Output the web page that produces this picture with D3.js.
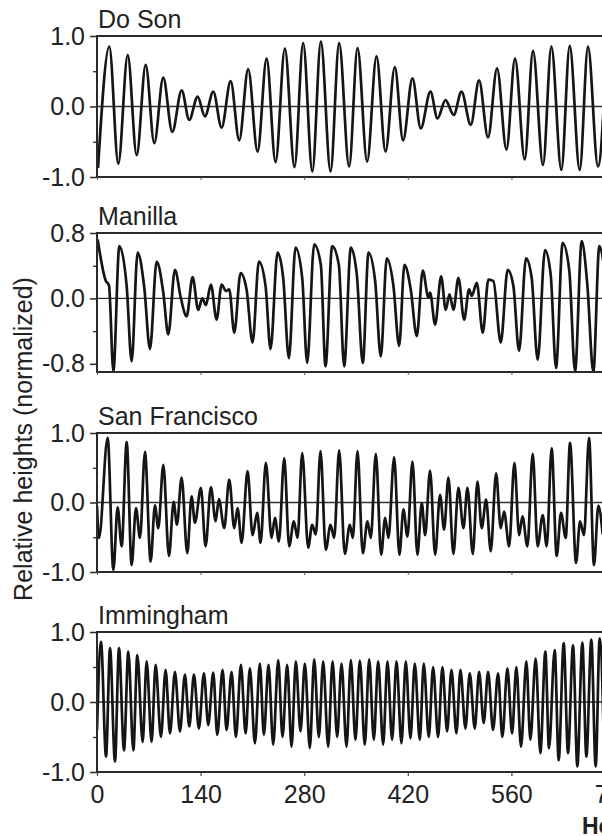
<!DOCTYPE html>
<html><head><meta charset="utf-8">
<script src="https://cdn.jsdelivr.net/npm/d3@7"></script>
<style>body{margin:0;background:#fff}svg{display:block}</style>
</head><body>
<svg id="chart" width="602" height="836"></svg>
<script>
// ---------------- data ----------------
const stations = ["Do Son", "Manilla", "San Francisco", "Immingham"];
const xTickValues = [0, 140, 280, 420, 560, 700];
const xAxisTitle = "Hours";
const yAxisTitle = "Relative heights (normalized)";

const doSonHours = [1.4,16.6,28.8,41.5,53.6,65.8,77.4,89.5,101.7,114.4,124.6,136.0,145.8,157.1,168.4,180.6,192.2,204.3,217.0,229.2,241.3,253.9,266.9,278.6,291.0,302.5,315.6,327.2,340.7,352.1,365.0,377.7,389.9,402.4,413.6,426.3,437.5,450.6,460.1,470.9,482.1,492.5,505.1,516.3,528.4,540.6,553.3,564.9,578.0,589.2,602.7,614.0,627.5,638.8,652.3,663.5,677.0,688.7];
const doSonHeights = [-0.87,0.85,-0.81,0.73,-0.69,0.59,-0.52,0.41,-0.36,0.23,-0.19,0.14,-0.14,0.21,-0.30,0.36,-0.48,0.53,-0.64,0.68,-0.79,0.82,-0.86,0.90,-0.92,0.92,-0.92,0.90,-0.85,0.83,-0.78,0.71,-0.64,0.56,-0.48,0.40,-0.31,0.21,-0.17,0.09,-0.12,0.21,-0.26,0.37,-0.44,0.54,-0.61,0.68,-0.75,0.79,-0.83,0.85,-0.90,0.86,-0.90,0.85,-0.85,0.83];

const manillaHours = [0.9,11.7,16.2,22.1,30.2,40.1,46.8,54.9,63.9,71.6,80.6,89.6,96.3,105.3,113.4,121.1,129.2,136.8,142.2,147.2,153.9,161.6,168.4,174.2,178.7,185.5,194.0,202.1,210.2,218.8,227.8,234.5,244.0,251.6,259.3,268.3,277.3,284.0,293.5,302.5,308.8,317.8,326.8,334.0,343.0,351.1,359.2,366.9,375.9,383.5,391.6,400.6,408.3,415.5,424.0,432.1,440.2,447.9,450.1,456.9,465.0,471.3,476.3,481.7,488.4,496.1,502.8,506.4,513.2,521.3,528.9,535.7,545.6,555.0,562.7,570.3,579.8,587.4,595.5,605.4,613.1,620.3,629.3,638.3,646.0,655.0,662.6,670.7,678.8,686.5,694.0];
const manillaHeights = [0.72,0.22,0.16,-0.89,0.64,0.15,-0.77,0.56,0.13,-0.62,0.45,0.07,-0.44,0.35,0.00,-0.22,0.26,-0.14,0.00,-0.08,0.17,-0.26,0.17,0.09,0.11,-0.42,0.31,0.11,-0.54,0.45,0.15,-0.62,0.56,0.25,-0.73,0.62,0.25,-0.79,0.66,0.41,-0.83,0.64,0.41,-0.83,0.62,0.29,-0.79,0.56,0.21,-0.71,0.49,0.15,-0.58,0.41,0.11,-0.46,0.34,0.01,0.07,-0.32,0.27,-0.14,0.05,-0.14,0.25,-0.26,0.11,0.03,0.19,-0.42,0.23,0.21,-0.54,0.35,0.15,-0.64,0.49,0.25,-0.75,0.59,0.29,-0.85,0.68,0.33,-0.89,0.70,0.17,-0.90,0.64,0.25,-0.85];

const sanFranciscoHours = [0,2.7,14.4,22.1,27.9,33.3,40.1,46.8,52.7,58.1,64.8,72.5,78.3,82.8,89.6,97.2,103.6,108.0,114.3,122.0,127.8,132.3,140.4,146.7,153.9,160.3,164.7,171.9,178.7,185.5,190.0,195.4,203.5,210.2,216.5,221.0,228.2,235.9,240.4,245.8,253.0,259.7,266.0,271.0,277.3,285.4,290.8,295.7,302.0,309.2,315.6,320.5,327.2,334.9,341.7,345.7,352.0,359.2,365.5,370.0,376.8,384.0,389.4,393.8,401.5,408.7,414.1,419.5,426.3,433.0,438.9,443.4,450.1,456.9,463.6,469.0,474.9,481.6,488.4,495.2,500.6,507.8,514.1,519.9,525.8,532.1,539.3,545.6,550.1,556.9,564.1,570.4,574.9,581.6,588.8,595.5,602.3,607.7,614.4,621.2,627.0,633.4,639.2,647.4,652.7,658.1,664.9,671.6,677.5,683.4];
const sanFranciscoHeights = [-0.05,-0.51,0.93,-0.97,-0.07,-0.63,0.87,-0.90,-0.08,-0.51,0.73,-0.85,-0.04,-0.37,0.54,-0.77,0.01,-0.32,0.36,-0.73,0.09,-0.29,0.21,-0.63,0.22,-0.27,0.05,-0.37,0.33,-0.37,-0.08,-0.58,0.45,-0.47,-0.15,-0.58,0.57,-0.51,-0.22,-0.56,0.64,-0.63,-0.27,-0.51,0.71,-0.65,-0.32,-0.46,0.74,-0.68,-0.32,-0.51,0.75,-0.74,-0.32,-0.51,0.74,-0.73,-0.27,-0.51,0.70,-0.75,-0.22,-0.51,0.65,-0.75,-0.10,-0.49,0.59,-0.75,-0.01,-0.47,0.46,-0.75,0.11,-0.39,0.36,-0.74,0.21,-0.37,0.21,-0.74,0.30,-0.37,0.04,-0.70,0.42,-0.37,-0.13,-0.63,0.57,-0.47,-0.20,-0.63,0.70,-0.63,-0.18,-0.63,0.78,-0.77,-0.15,-0.51,0.86,-0.87,-0.27,-0.47,0.93,-0.90,-0.05,-0.46];

const imminghamHours = [0,5.4,12.2,17.6,24.3,29.7,36.5,42.3,49.1,54.5,61.7,67.1,73.8,79.2,86.4,92.7,98.6,105.3,112.1,118.8,124.7,131.0,137.7,144.5,150.3,157.1,162.5,169.7,175.1,181.9,187.7,194.5,200.8,206.6,213.4,220.1,225.5,231.8,238.1,244.9,250.7,257.0,262.9,268.7,275.0,280.9,287.6,293.5,299.8,305.6,312.4,318.3,324.6,330.4,337.2,343.0,349.3,355.2,361.9,367.8,374.1,379.9,386.7,392.5,398.8,404.7,411.4,417.3,423.6,429.4,436.2,441.6,448.3,454.2,460.9,466.8,473.1,479.0,485.7,491.1,497.9,503.7,510.5,516.3,522.6,528.5,535.2,542.0,547.8,554.6,560.9,566.7,573.0,580.2,585.6,592.8,599.1,605.9,610.8,618.5,623.9,630.7,636.5,643.3,649.1,655.9,661.3,668.0,673.9,679.3,685.5];
const imminghamHeights = [-0.40,0.86,-0.78,0.77,-0.85,0.77,-0.69,0.72,-0.69,0.67,-0.57,0.58,-0.57,0.53,-0.50,0.46,-0.45,0.43,-0.42,0.39,-0.35,0.39,-0.38,0.41,-0.33,0.42,-0.47,0.46,-0.40,0.43,-0.50,0.53,-0.45,0.48,-0.59,0.55,-0.47,0.53,-0.61,0.60,-0.50,0.53,-0.64,0.58,-0.42,0.55,-0.66,0.61,-0.50,0.58,-0.64,0.58,-0.50,0.55,-0.64,0.60,-0.54,0.59,-0.61,0.61,-0.54,0.58,-0.61,0.58,-0.54,0.58,-0.59,0.58,-0.52,0.55,-0.54,0.55,-0.50,0.50,-0.50,0.50,-0.42,0.46,-0.45,0.46,-0.38,0.41,-0.38,0.43,-0.30,0.43,-0.40,0.41,-0.50,0.48,-0.45,0.50,-0.64,0.58,-0.54,0.62,-0.73,0.72,-0.66,0.74,-0.83,0.84,-0.73,0.81,-0.92,0.85,-0.78,0.89,-0.92,0.91,-0.80];

const yMajorTicks = [[-1, 0, 1], [-0.8, 0, 0.8], [-1, 0, 1], [-1, 0, 1]];
const yMinorTicks = [[-0.5, 0.5], [-0.4, 0.4], [-0.5, 0.5], [-0.5, 0.5]];
const yDomains = [[-1, 1], [-0.9, 0.8], [-1, 1], [-1, 1]];

// ---------------- layout ----------------
const W = 602, H = 836;
const left = 97;
const panelBox = [[36, 177], [233, 372], [433, 572], [632, 772]];
const titleBase = [28, 225, 425, 624];
const FONT = "'Liberation Sans', Arial, Helvetica, sans-serif";

const series = [
  { hours: doSonHours, heights: doSonHeights },
  { hours: manillaHours, heights: manillaHeights },
  { hours: sanFranciscoHours, heights: sanFranciscoHeights },
  { hours: imminghamHours, heights: imminghamHeights }
];

const svg = d3.select("#chart");
svg.append("rect").attr("width", W).attr("height", H).attr("fill", "#fff");

const x = d3.scaleLinear().domain([0, 700]).range([left, 615]);

svg.append("defs").append("clipPath").attr("id", "plotclip")
  .append("rect").attr("x", left).attr("y", 0).attr("width", W - left).attr("height", H);

const fmt = d => d.toFixed(1);

stations.forEach((name, i) => {
  const [top, bottom] = panelBox[i];
  const y = d3.scaleLinear().domain(yDomains[i]).range([bottom, top]);
  const g = svg.append("g");

  // title
  g.append("text").attr("x", left + 1).attr("y", titleBase[i])
    .attr("font-family", FONT).attr("font-size", 25).attr("fill", "#222").text(name);

  // zero line
  g.append("line").attr("x1", left).attr("x2", W).attr("y1", y(0)).attr("y2", y(0))
    .attr("stroke", "#333").attr("stroke-width", 1.3);

  // curve
  const pts = series[i].hours.map((h, k) => [h, series[i].heights[k]]);
  const line = d3.line().x(d => x(d[0])).y(d => y(d[1])).curve(d3.curveMonotoneX);
  g.append("path").datum(pts).attr("d", line).attr("clip-path", "url(#plotclip)")
    .attr("fill", "none").attr("stroke", "#151515").attr("stroke-width", 2.7)
    .attr("stroke-linejoin", "round");

  // frame lines (top, bottom, left)
  [top, bottom].forEach(yy => {
    g.append("line").attr("x1", left - 1).attr("x2", W).attr("y1", yy).attr("y2", yy)
      .attr("stroke", "#2a2a2a").attr("stroke-width", 2);
  });
  g.append("line").attr("x1", left).attr("x2", left).attr("y1", top).attr("y2", bottom)
    .attr("stroke", "#2a2a2a").attr("stroke-width", 2);

  // y axis major
  const ax = g.append("g").attr("transform", `translate(${left},0)`)
    .call(d3.axisLeft(y).tickValues(yMajorTicks[i]).tickFormat(fmt).tickSize(7).tickPadding(5));
  ax.select(".domain").remove();
  ax.selectAll("line").attr("stroke", "#2a2a2a").attr("stroke-width", 1.5);
  ax.selectAll("text").attr("font-family", FONT).attr("font-size", 25).attr("fill", "#222");

  // y axis minor
  const axm = g.append("g").attr("transform", `translate(${left},0)`)
    .call(d3.axisLeft(y).tickValues(yMinorTicks[i]).tickFormat("").tickSize(4));
  axm.select(".domain").remove();
  axm.selectAll("line").attr("stroke", "#2a2a2a").attr("stroke-width", 1.3);

  // x tick marks on each panel bottom
  if (i < 3) {
    const xm = g.append("g").attr("transform", `translate(0,${bottom})`)
      .call(d3.axisBottom(x).tickValues(xTickValues).tickFormat("").tickSize(3));
    xm.select(".domain").remove();
    xm.selectAll("line").attr("stroke", "#555").attr("stroke-width", 1);
  } else {
    const xa = g.append("g").attr("transform", `translate(0,${bottom})`)
      .call(d3.axisBottom(x).tickValues(xTickValues).tickFormat(d => String(d)).tickSize(4).tickPadding(9));
    xa.select(".domain").remove();
    xa.selectAll("line").attr("stroke", "#444").attr("stroke-width", 1.2);
    xa.selectAll("text").attr("font-family", FONT).attr("font-size", 25).attr("fill", "#222");
  }
});

// axis titles
svg.append("text").attr("transform", "translate(32,439) rotate(-90)")
  .attr("text-anchor", "middle").attr("font-family", FONT).attr("font-size", 25)
  .attr("fill", "#222").text(yAxisTitle);
svg.append("text").attr("x", 582).attr("y", 834)
  .attr("font-family", FONT).attr("font-size", 23).attr("font-weight", "bold")
  .attr("fill", "#222").text(xAxisTitle);
</script>
</body></html>
